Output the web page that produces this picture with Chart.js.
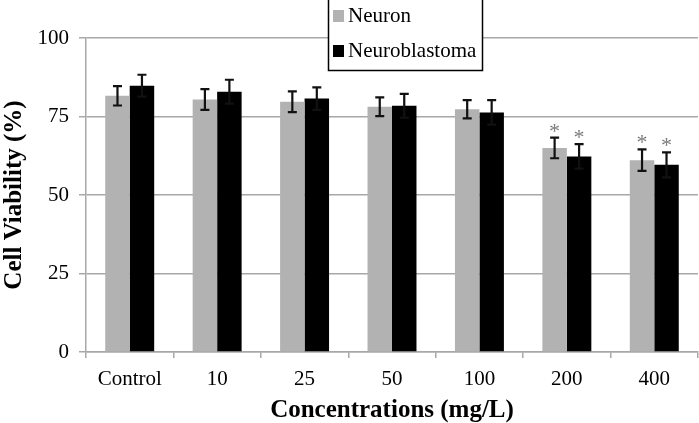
<!DOCTYPE html>
<html>
<head>
<meta charset="utf-8">
<script src="https://cdn.jsdelivr.net/npm/chart.js@4.4.0/dist/chart.umd.min.js"></script>
<style>
  html, body { margin: 0; padding: 0; background: #fff; }
  #wrap { width: 699px; height: 423px; }
</style>
</head>
<body>
<div id="wrap"><canvas id="viabilityChart"></canvas></div>
<script>
const categories = ["Control", "10", "25", "50", "100", "200", "400"];
const neuron = [81.6, 80.4, 79.7, 78.1, 77.3, 65.0, 61.1];
const neuronErr = [3.1, 3.3, 3.3, 3.0, 2.9, 3.3, 3.4];
const neuroblastoma = [84.8, 82.9, 80.7, 78.4, 76.3, 62.3, 59.6];
const neuroblastomaErr = [3.5, 3.8, 3.6, 3.8, 3.9, 3.9, 4.0];
const significant = [false, false, false, false, false, true, true];
const yTicks = [0, 25, 50, 75, 100];

const SERIF = "'Liberation Serif', 'Times New Roman', serif";
const GRID = "#a8a8a8";

const errorBars = {
  id: "errorBars",
  afterDatasetsDraw(chart) {
    const ctx = chart.ctx;
    const yScale = chart.scales.y;
    const errs = [neuronErr, neuroblastomaErr];
    ctx.save();
    chart.data.datasets.forEach((ds, di) => {
      const meta = chart.getDatasetMeta(di);
      meta.data.forEach((bar, i) => {
        const v = ds.data[i];
        const e = errs[di][i];
        const top = yScale.getPixelForValue(v + e);
        const bot = yScale.getPixelForValue(v - e);
        ctx.strokeStyle = "#111";
        ctx.lineWidth = 2.2;
        ctx.beginPath();
        ctx.moveTo(bar.x, top);
        ctx.lineTo(bar.x, bot);
        ctx.moveTo(bar.x - 4.5, top);
        ctx.lineTo(bar.x + 4.5, top);
        ctx.moveTo(bar.x - 4.5, bot);
        ctx.lineTo(bar.x + 4.5, bot);
        ctx.stroke();
        if (significant[i]) {
          ctx.fillStyle = "#7a7a7a";
          ctx.font = "22px " + SERIF;
          ctx.textAlign = "center";
          ctx.textBaseline = "alphabetic";
          ctx.fillText("*", bar.x, top);
        }
      });
    });
    ctx.restore();
  }
};

const boxLegend = {
  id: "boxLegend",
  afterDraw(chart) {
    const ctx = chart.ctx;
    ctx.save();
    ctx.fillStyle = "#fff";
    ctx.fillRect(328, 0, 154, 71);
    ctx.strokeStyle = "#000";
    ctx.lineWidth = 1.5;
    ctx.strokeRect(328.5, -1, 154, 71.5);
    ctx.font = "21px " + SERIF;
    ctx.textAlign = "left";
    ctx.textBaseline = "alphabetic";
    const rows = [22, 57];
    chart.data.datasets.forEach((ds, i) => {
      ctx.fillStyle = ds.backgroundColor;
      ctx.fillRect(333, rows[i] - 12, 11, 12);
      ctx.fillStyle = "#000";
      ctx.fillText(ds.label, 348, rows[i]);
    });
    ctx.restore();
  }
};

const ctx = document.getElementById("viabilityChart").getContext("2d");
new Chart(ctx, {
  type: "bar",
  data: {
    labels: categories,
    datasets: [
      {
        label: "Neuron",
        data: neuron,
        backgroundColor: "#b2b2b2",
        barPercentage: 1.0,
        categoryPercentage: 0.56
      },
      {
        label: "Neuroblastoma",
        data: neuroblastoma,
        backgroundColor: "#000000",
        barPercentage: 1.0,
        categoryPercentage: 0.56
      }
    ]
  },
  options: {
    responsive: true,
    maintainAspectRatio: false,
    animation: false,
    devicePixelRatio: 1,
    layout: {
      padding: { top: 38, right: 1, left: 0, bottom: 0 }
    },
    plugins: {
      legend: { display: false },
      tooltip: { enabled: false }
    },
    scales: {
      x: {
        afterFit(scale) { scale.height = 71; },
        grid: {
          drawOnChartArea: false,
          drawTicks: true,
          tickLength: 6,
          color: GRID,
          lineWidth: 1.5
        },
        border: { color: GRID, width: 1.5 },
        ticks: {
          color: "#000",
          padding: 9,
          font: { family: SERIF, size: 21 }
        },
        title: {
          display: true,
          text: "Concentrations (mg/L)",
          color: "#000",
          padding: { top: 0, bottom: -3 },
          font: { family: SERIF, size: 25, weight: "bold" }
        }
      },
      y: {
        min: 0,
        max: 100,
        afterFit(scale) { scale.width = 86; },
        afterBuildTicks(scale) {
          scale.ticks = yTicks.map(v => ({ value: v }));
        },
        grid: {
          color: GRID,
          lineWidth: 1.5,
          drawTicks: true,
          tickLength: 7
        },
        border: { color: GRID, width: 1.5 },
        ticks: {
          color: "#000",
          padding: 10,
          font: { family: SERIF, size: 21 }
        },
        title: {
          display: true,
          text: "Cell Viability (%)",
          color: "#000",
          padding: { top: 0, bottom: 0 },
          font: { family: SERIF, size: 25, weight: "bold" }
        }
      }
    }
  },
  plugins: [errorBars, boxLegend]
});
</script>
</body>
</html>
